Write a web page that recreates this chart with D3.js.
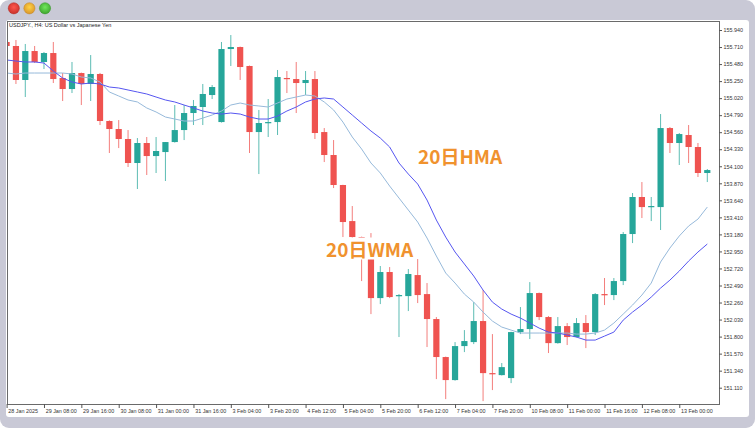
<!DOCTYPE html>
<html><head><meta charset="utf-8">
<script src="https://cdn.jsdelivr.net/npm/d3@7/dist/d3.min.js"></script>
<style>
html,body{margin:0;padding:0;background:#fff;}
svg{display:block;}
</style></head><body>
<svg id="c" width="755" height="428"></svg>
<script>
// ---- data (USDJPY H4) ----
const opens  = [155.778,155.724,155.265,155.656,155.508,155.629,155.292,155.143,155.359,155.211,155.346,154.711,154.603,154.468,154.144,154.414,154.238,154.292,154.427,154.589,154.819,154.900,155.062,154.697,155.683,155.710,155.454,154.562,154.684,154.697,155.292,155.278,155.224,155.278,154.562,154.252,153.847,153.360,153.144,152.847,152.320,152.672,152.347,152.347,152.631,152.374,152.037,151.524,151.213,151.672,151.726,152.010,151.307,151.280,151.240,151.861,151.902,152.388,152.064,151.712,151.942,151.794,151.983,151.861,152.374,152.361,152.550,153.185,153.685,153.549,153.549,154.616,154.414,154.522,154.360,154.009];
const highs  = [155.791,155.805,155.751,155.724,155.643,155.778,155.359,155.508,155.365,155.602,155.360,154.720,154.724,154.589,154.481,154.495,154.495,154.427,154.927,154.927,154.995,155.211,155.197,155.778,155.872,155.716,155.460,154.860,155.008,155.400,155.386,155.508,155.386,155.386,154.616,154.454,153.850,153.563,153.150,153.198,152.753,152.739,152.374,152.712,152.847,152.523,152.064,151.530,151.726,151.888,152.266,152.428,151.834,151.443,151.865,152.199,152.536,152.395,152.077,152.064,151.983,152.050,152.091,152.388,152.591,152.591,153.212,153.739,153.887,153.685,154.805,154.630,154.549,154.657,154.414,154.063];
const lows   = [155.710,155.211,155.035,155.494,155.413,155.224,154.981,155.089,154.927,154.981,154.657,154.279,154.346,154.090,153.793,153.982,154.009,153.901,154.420,154.454,154.657,154.657,155.008,154.690,155.454,155.265,154.279,153.995,154.495,154.522,155.089,154.819,155.062,154.468,154.157,153.806,153.144,153.104,152.550,152.104,152.239,152.320,151.794,152.145,152.253,151.659,151.226,150.956,151.205,151.591,151.699,150.929,151.078,151.275,151.172,151.834,151.767,152.023,151.578,151.705,151.686,151.789,151.645,151.821,152.226,152.293,152.496,153.063,153.401,153.360,153.239,154.279,154.117,154.144,153.955,153.887];
const closes = [155.724,155.265,155.656,155.508,155.629,155.278,155.143,155.359,155.211,155.346,154.711,154.603,154.468,154.144,154.414,154.238,154.306,154.427,154.589,154.819,154.914,155.076,155.170,155.683,155.710,155.440,154.562,154.684,154.697,155.305,155.278,155.224,155.265,154.549,154.252,153.847,153.347,153.144,152.861,152.320,152.672,152.334,152.361,152.645,152.361,152.037,151.524,151.213,151.672,151.740,152.010,151.307,151.294,151.388,151.861,151.902,152.388,152.064,151.712,151.942,151.794,151.983,151.861,152.374,152.361,152.550,153.185,153.685,153.549,153.563,154.616,154.414,154.535,154.360,154.009,154.049];
const hma20  = [155.535,155.521,155.508,155.508,155.494,155.386,155.292,155.238,155.211,155.224,155.211,155.170,155.157,155.130,155.103,155.076,155.035,154.995,154.968,154.927,154.887,154.846,154.819,154.805,154.819,154.805,154.765,154.738,154.738,154.778,154.846,154.900,154.968,155.008,155.022,155.008,154.900,154.792,154.684,154.576,154.481,154.360,154.144,153.995,153.860,153.644,153.374,153.144,152.942,152.780,152.618,152.428,152.266,152.172,152.104,152.050,151.983,151.915,151.861,151.848,151.821,151.794,151.753,151.753,151.807,151.861,152.023,152.131,152.226,152.334,152.455,152.563,152.685,152.820,152.942,153.050];
const wma20  = [155.359,155.346,155.359,155.359,155.359,155.359,155.359,155.346,155.305,155.292,155.238,155.103,155.049,154.995,154.968,154.887,154.833,154.765,154.738,154.711,154.711,154.751,154.792,154.846,154.927,154.954,154.927,154.914,154.900,154.954,155.008,155.035,155.062,155.049,154.968,154.860,154.697,154.495,154.333,154.144,154.009,153.833,153.671,153.509,153.347,153.131,152.888,152.658,152.523,152.374,152.266,152.131,152.010,151.929,151.888,151.848,151.848,151.848,151.848,151.848,151.848,151.834,151.834,151.848,151.888,151.983,152.104,152.226,152.361,152.523,152.807,152.996,153.158,153.293,153.387,153.549];
const priceTicks = [155.940,155.710,155.480,155.250,155.020,154.790,154.560,154.330,154.100,153.870,153.640,153.410,153.180,152.950,152.720,152.490,152.260,152.030,151.800,151.570,151.340,151.110];
const timeTickIdx = [0,4,8,12,16,20,24,28,32,36,40,44,48,52,56,60,64,68,72];
const timeTickLabels = ["28 Jan 2025","29 Jan 08:00","29 Jan 16:00","30 Jan 08:00","31 Jan 00:00","31 Jan 16:00","3 Feb 04:00","3 Feb 20:00","4 Feb 12:00","5 Feb 04:00","5 Feb 20:00","6 Feb 12:00","7 Feb 04:00","7 Feb 20:00","10 Feb 08:00","11 Feb 00:00","11 Feb 16:00","12 Feb 08:00","13 Feb 00:00"];
const title = "USDJPY., H4: US Dollar vs Japanese Yen";
const labelHMA = "20日HMA";
const labelWMA = "20日WMA";

// ---- layout ----
const svg = d3.select("#c");
const W = 755, H = 428;
const plot = {l:7, t:21, r:719, b:404};
const UP = "#26a69a", DN = "#ef5350";

const x = d3.scaleLinear().domain([0, 75]).range([6.6, 707.3]);
const y = d3.scaleLinear().domain([151.11, 155.94]).range([387.7, 30]);

// window frame
svg.append("rect").attr("x",0).attr("y",0).attr("width",W).attr("height",H)
  .attr("rx",9).attr("fill","#c9c9d6");
const dots = [["#ee4b43","#c8322b"],["#f6b73c","#d9952a"],["#62c94f","#3fa52f"]];
const defs = svg.append("defs");
dots.forEach((c,k)=>{
  const g = defs.append("radialGradient").attr("id","g"+k).attr("cx","50%").attr("cy","40%").attr("r","60%");
  g.append("stop").attr("offset","0%").attr("stop-color",d3.color(c[0]).brighter(0.4));
  g.append("stop").attr("offset","100%").attr("stop-color",c[1]);
  svg.append("circle").attr("cx",13.8+15.6*k).attr("cy",8.3).attr("r",5.6)
    .attr("fill","url(#g"+k+")").attr("stroke",d3.color(c[1]).darker(0.3)).attr("stroke-width",0.5);
});
svg.append("rect").attr("x",6).attr("y",20).attr("width",743).attr("height",397)
  .attr("rx",3).attr("fill","#fff");

defs.append("clipPath").attr("id","clip").append("rect")
  .attr("x",plot.l+0.5).attr("y",plot.t+0.5).attr("width",plot.r-plot.l-1).attr("height",plot.b-plot.t-1);

const g = svg.append("g").attr("clip-path","url(#clip)");

// candles
const idx = d3.range(opens.length);
const col = i => closes[i] >= opens[i] ? UP : DN;
g.selectAll("line.wick").data(idx).join("line").attr("class","wick")
  .attr("x1",i=>x(i)).attr("x2",i=>x(i))
  .attr("y1",i=>y(highs[i])).attr("y2",i=>y(lows[i]))
  .attr("stroke",col).attr("stroke-width",1).attr("stroke-opacity",0.75);
g.selectAll("rect.body").data(idx).join("rect").attr("class","body")
  .attr("x",i=>x(i)-3.1).attr("width",6.2)
  .attr("y",i=>y(Math.max(opens[i],closes[i])))
  .attr("height",i=>Math.max(1.2, Math.abs(y(opens[i])-y(closes[i]))))
  .attr("fill",col);

// moving averages
const line = arr => d3.line().x((d,i)=>x(i)).y(d=>y(d))(arr);
g.append("path").attr("d",line(wma20)).attr("fill","none").attr("stroke","#96b9da").attr("stroke-width",1);
g.append("path").attr("d",line(hma20)).attr("fill","none").attr("stroke","#5656f0").attr("stroke-width",1);

// frame
svg.append("rect").attr("x",plot.l).attr("y",plot.t).attr("width",plot.r-plot.l).attr("height",plot.b-plot.t)
  .attr("fill","none").attr("stroke","#6a6a6a").attr("stroke-width",1)
  .attr("shape-rendering","crispEdges");

const FONT = "Liberation Sans, Arial, sans-serif";
// price axis
const ya = svg.append("g").attr("transform",`translate(${plot.r},0)`)
  .call(d3.axisRight(y).tickValues(priceTicks).tickSize(3).tickPadding(1.5).tickFormat(d3.format(".3f")));
ya.select(".domain").remove();
ya.selectAll("line").attr("stroke","#555");
ya.selectAll("text").attr("font-family",FONT).attr("font-size",5.4).attr("fill","#333");

// time axis
const xa = svg.append("g").attr("transform",`translate(0,${plot.b})`)
  .call(d3.axisBottom(x).tickValues(timeTickIdx).tickSize(4)
    .tickFormat((d,k)=>timeTickLabels[k]));
xa.select(".domain").remove();
xa.selectAll("line").attr("stroke","#555");
xa.selectAll("text").attr("font-family",FONT).attr("font-size",5.4).attr("fill","#333")
  .attr("text-anchor","start").attr("x",1.2).attr("y",4).attr("dy","0.9em");

// title
svg.append("text").attr("x",9).attr("y",27.3).text(title)
  .attr("font-family",FONT).attr("font-size",5.5).attr("fill","#222");

// annotations
const JP = "'Noto Sans CJK JP', 'Noto Sans', sans-serif";
const tw = svg.append("text").attr("x",326).attr("y",256.5).text(labelWMA)
  .attr("font-family",JP).attr("font-weight","bold").attr("font-size",19).attr("fill","#f0922e");
const bb = tw.node().getBBox();
svg.insert("rect", () => tw.node()).attr("x",bb.x).attr("y",bb.y+3).attr("width",bb.width).attr("height",bb.height-5).attr("fill","#fff");
svg.append("text").attr("x",418).attr("y",163.5).text(labelHMA)
  .attr("font-family",JP).attr("font-weight","bold").attr("font-size",19).attr("fill","#f0922e");
</script>
</body></html>
